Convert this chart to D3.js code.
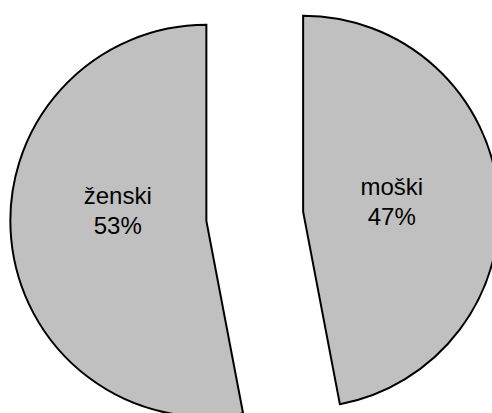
<!DOCTYPE html>
<html>
<head>
<meta charset="utf-8">
<script src="https://cdn.jsdelivr.net/npm/d3@7"></script>
<style>
  html, body { margin: 0; padding: 0; background: #fff; }
  svg { display: block; }
</style>
</head>
<body>
<div id="chart"></div>
<script>
    // slices, clockwise from 12 o'clock
    var categories = ["moški", "ženski"];
    var percents = [47, 53];

    var width = 492, height = 413;
    var cx = 254.75, cy = 216.25;   // pie centre before the slices are pulled apart
    var radius = 196;
    var explode = 48.6;             // how far each slice is pulled out
    var labelR = 89;

    var svg = d3.select("#chart").append("svg")
        .attr("width", width)
        .attr("height", height);

    var pie = d3.pie().sort(null).value(function (d) { return d; });
    var arcs = pie(percents);

    var arc = d3.arc().innerRadius(0).outerRadius(radius);
    var labelArc = d3.arc().innerRadius(labelR).outerRadius(labelR);

    function shift(d) {
        var mid = (d.startAngle + d.endAngle) / 2;
        return [Math.sin(mid) * explode, -Math.cos(mid) * explode];
    }

    var g = svg.selectAll("g.slice")
        .data(arcs)
        .enter().append("g")
        .attr("class", "slice")
        .attr("transform", function (d) {
            var s = shift(d);
            return "translate(" + (cx + s[0]) + "," + (cy + s[1]) + ")";
        });

    g.append("path")
        .attr("d", arc)
        .style("fill", "#c0c0c0")
        .style("stroke", "#000")
        .style("stroke-width", 2)
        .style("stroke-linejoin", "miter");

    var lab = g.append("text")
        .attr("text-anchor", "middle")
        .style("font-family", "'Liberation Sans', Arial, sans-serif")
        .style("font-size", "24px")
        .style("fill", "#000")
        .attr("transform", function (d) {
            var c = labelArc.centroid(d);
            return "translate(" + c[0] + ",0)";
        });

    lab.append("tspan")
        .attr("x", 0).attr("y", -17)
        .text(function (d, i) { return categories[i]; });
    lab.append("tspan")
        .attr("x", 0).attr("y", 13)
        .text(function (d) { return d.data + "%"; });
</script>
</body>
</html>
